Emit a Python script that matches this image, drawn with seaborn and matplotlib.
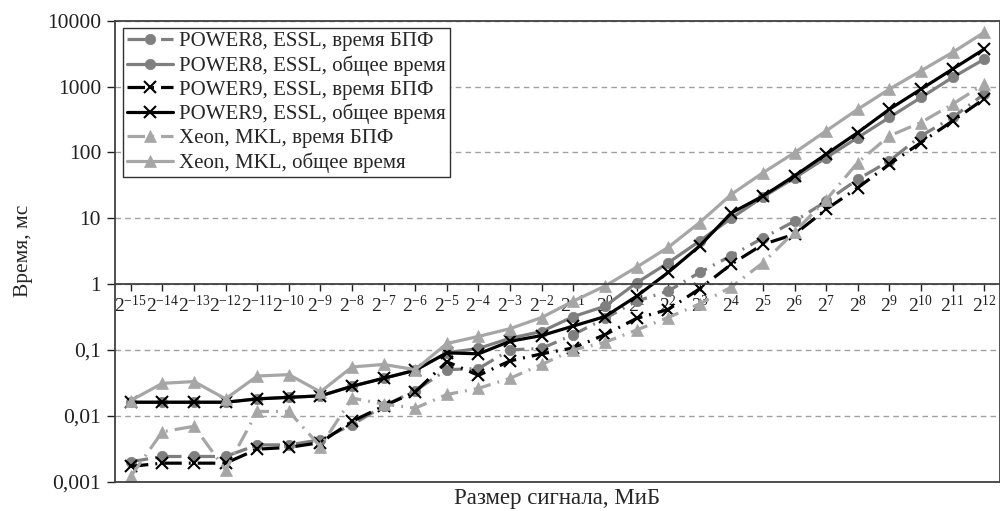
import numpy as np
import pandas as pd
import seaborn as sns
import matplotlib
matplotlib.use("Agg")
import matplotlib.pyplot as plt
from matplotlib.ticker import NullLocator

# размер сигнала, степень двойки (МиБ)
powers = list(range(-15, 13))

# время, мс
p8_fft = [0.002, 0.0024, 0.0024, 0.0024, 0.0036, 0.0036, 0.0043, 0.0073, 0.014, 0.024,
          0.05, 0.052, 0.1, 0.105, 0.17, 0.3, 0.55, 0.78, 1.5, 2.7,
          5.0, 9.0, 18, 39, 74, 178, 339, 770]
p8_total = [0.016, 0.016, 0.016, 0.016, 0.018, 0.019, 0.02, 0.028, 0.037, 0.049,
            0.09, 0.105, 0.15, 0.19, 0.32, 0.46, 1.04, 2.1, 4.5, 10,
            21, 41, 83, 168, 339, 682, 1375, 2600]
p9_fft = [0.0017, 0.0019, 0.0019, 0.0019, 0.0031, 0.0033, 0.0039, 0.0082, 0.014, 0.023,
          0.066, 0.041, 0.068, 0.087, 0.107, 0.17, 0.3, 0.41, 0.85, 2.0,
          4.0, 5.7, 13.6, 29, 66, 141, 300, 650]
p9_total = [0.016, 0.016, 0.016, 0.016, 0.018, 0.019, 0.02, 0.028, 0.037, 0.049,
            0.09, 0.087, 0.135, 0.165, 0.23, 0.32, 0.65, 1.5, 3.8, 12,
            21.7, 44, 94, 200, 451, 913, 1840, 3700]
xeon_fft = [0.0012, 0.0057, 0.0069, 0.0015, 0.0116, 0.0116, 0.0034, 0.0185, 0.015, 0.013,
            0.021, 0.026, 0.037, 0.06, 0.1, 0.13, 0.2, 0.31, 0.5, 0.9,
            2.1, 6.2, 19, 70, 178, 284, 540, 1090]
xeon_total = [0.017, 0.031, 0.033, 0.018, 0.04, 0.042, 0.023, 0.055, 0.06, 0.05,
              0.125, 0.16, 0.21, 0.31, 0.55, 0.93, 1.8, 3.6, 8.6, 23,
              49, 99, 212, 451, 913, 1735, 3300, 6650]

labels = ["POWER8, ESSL, время БПФ", "POWER8, ESSL, общее время",
          "POWER9, ESSL, время БПФ", "POWER9, ESSL, общее время",
          "Xeon, MKL, время БПФ", "Xeon, MKL, общее время"]

sns.set_theme(style="ticks")
plt.rcParams["font.family"] = ["Liberation Serif", "DejaVu Serif"]
plt.rcParams["mathtext.fontset"] = "custom"
plt.rcParams["mathtext.rm"] = "Liberation Serif"
plt.rcParams["mathtext.it"] = "Liberation Serif:italic"

pos = np.arange(len(powers))
dashdot = (0, (5.5, 2.2, 0.6, 2.2))
gray = "#7f7f7f"
light = "#a6a6a6"
styles = [
    (p8_fft, gray, "o", dashdot, 7.5),
    (p8_total, gray, "o", "-", 7.5),
    (p9_fft, "black", "x", dashdot, 8.5),
    (p9_total, "black", "x", "-", 8.5),
    (xeon_fft, light, "^", dashdot, 8.5),
    (xeon_total, light, "^", "-", 8.5),
]

fig = plt.figure(figsize=(10, 5.11), dpi=100)
ax = fig.add_axes([0.115, 0.0577, 0.885, 0.9018])

for lab, (vals, col, mk, ls, ms) in zip(labels, styles):
    df = pd.DataFrame({"pos": pos, "t": vals})
    sns.lineplot(data=df, x="pos", y="t", ax=ax, color=col, marker=mk,
                 linestyle=ls, linewidth=2.3, markersize=ms,
                 markeredgecolor=col, markeredgewidth=1.5 if mk == "x" else 0.5,
                 label=lab, estimator=None)

ax.set_yscale("log")
ax.set_ylim(0.001, 10000)
ax.set_xlim(-0.5, len(powers) - 0.5)
yt = [0.001, 0.01, 0.1, 1, 10, 100, 1000, 10000]
ax.set_yticks(yt)
ax.set_yticklabels(["0,001", "0,01", "0,1", "1", "10", "100", "1000", "10000"])
ax.yaxis.set_minor_locator(NullLocator())
ax.set_xticks(pos)
ax.set_xticklabels([rf"$\mathregular{{2^{{{p}}}}}$" for p in powers])

ax.yaxis.grid(True, linestyle=(0, (4, 3)), color="#a0a0a0", linewidth=1)
ax.xaxis.grid(False)

ax.spines["bottom"].set_position(("data", 1))
for s in ax.spines.values():
    s.set_color("#404040")
    s.set_linewidth(1.3)
ax.plot([0, 1], [0, 0], transform=ax.transAxes, color="#404040", lw=1.3, clip_on=False)

ax.tick_params(axis="x", direction="out", length=5, width=1, pad=3, labelsize=14,
               colors="#202020", bottom=True)
ax.tick_params(axis="y", direction="out", length=6, width=1, pad=4, labelsize=15.5,
               colors="#202020", left=True)

ax.set_ylabel("Время, мс", fontsize=15.5)
ax.yaxis.set_label_coords(-0.093, 0.5)
ax.set_xlabel("Размер сигнала, МиБ", fontsize=16.5)
ax.xaxis.set_label_coords(0.5, -0.014)

leg = ax.legend(loc="upper left", bbox_to_anchor=(0.009, 0.985), borderaxespad=0,
                fontsize=15, handlelength=2.2, handletextpad=0.3, labelspacing=0.2,
                borderpad=0.2, fancybox=False, framealpha=1)
leg.get_frame().set_edgecolor("#303030")
leg.get_frame().set_linewidth(1)

fig.savefig("out.png", dpi=100)
